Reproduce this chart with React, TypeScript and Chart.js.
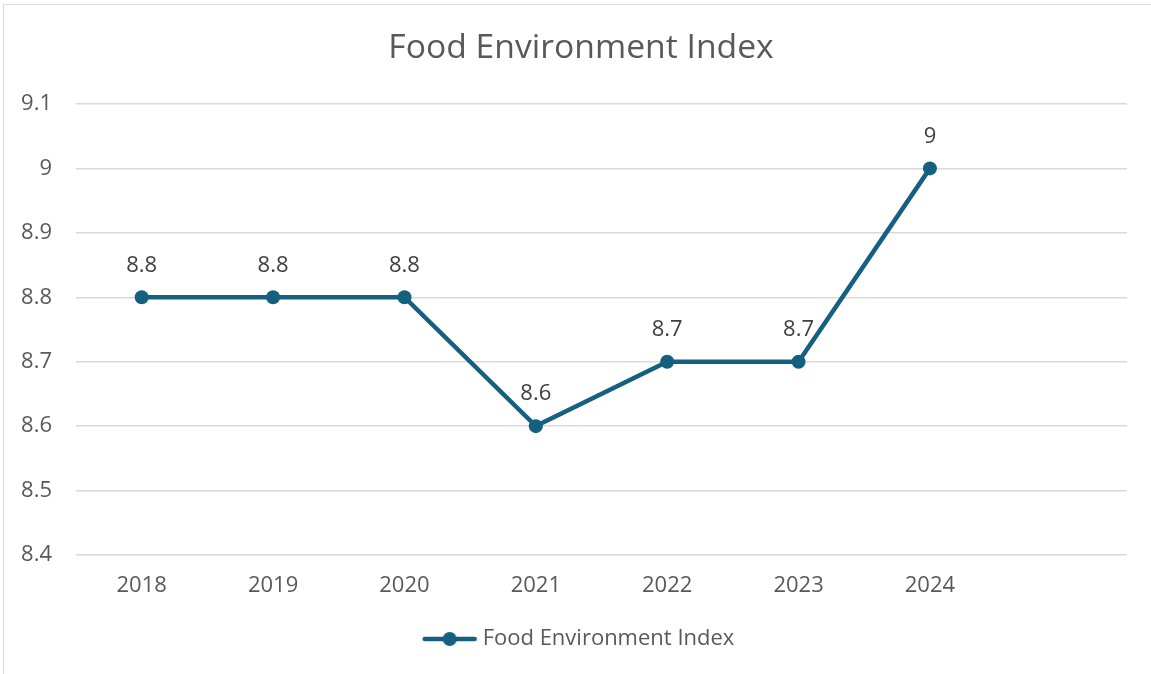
import React, { useEffect, useRef } from "react";
import { Chart, registerables } from "chart.js";

Chart.register(...registerables);

const chartTitle = "Food Environment Index";
const seriesName = "Food Environment Index";
const categories = ["2018", "2019", "2020", "2021", "2022", "2023", "2024", ""];
const values: (number | null)[] = [8.8, 8.8, 8.8, 8.6, 8.7, 8.7, 9.0, null];
const yMin = 8.4;
const yMax = 9.1;
const yStep = 0.1;

const LINE_COLOR = "#16607f";
const TEXT_COLOR = "#595959";
const LABEL_COLOR = "#404040";
const GRID_COLOR = "#d9d9d9";
const FONT = "'Open Sans', 'Liberation Sans', Arial, sans-serif";
const FS = 22;

function fmt(v: number) {
  return String(Number(v.toFixed(1)));
}

function makeLegendImage() {
  const c = document.createElement("canvas");
  c.width = 56;
  c.height = 16;
  const ctx = c.getContext("2d")!;
  ctx.strokeStyle = LINE_COLOR;
  ctx.lineWidth = 4.5;
  ctx.lineCap = "round";
  ctx.beginPath();
  ctx.moveTo(3, 8);
  ctx.lineTo(53, 8);
  ctx.stroke();
  ctx.fillStyle = LINE_COLOR;
  ctx.beginPath();
  ctx.arc(28, 8, 7, 0, Math.PI * 2);
  ctx.fill();
  return c;
}

const dataLabelPlugin = {
  id: "dataLabels",
  afterDatasetsDraw(chart: any) {
    const ctx = chart.ctx;
    const meta = chart.getDatasetMeta(0);
    ctx.save();
    ctx.font = `${FS}px ${FONT}`;
    ctx.fillStyle = LABEL_COLOR;
    ctx.textAlign = "center";
    ctx.textBaseline = "middle";
    meta.data.forEach((pt: any, i: number) => {
      const v = values[i];
      if (v == null) return;
      ctx.fillText(fmt(v), pt.x, pt.y - 32);
    });
    ctx.restore();
  },
};

export default function App() {
  const ref = useRef<HTMLCanvasElement>(null);
  useEffect(() => {
    if (!ref.current) return;
    const legendImg = makeLegendImage();
    const chart = new Chart(ref.current, {
      type: "line",
      data: {
        labels: categories,
        datasets: [
          {
            label: seriesName,
            data: values,
            borderColor: LINE_COLOR,
            backgroundColor: LINE_COLOR,
            borderWidth: 4.5,
            pointRadius: 7,
            pointBackgroundColor: LINE_COLOR,
            pointBorderWidth: 0,
            tension: 0,
          },
        ],
      },
      options: {
        responsive: false,
        animation: false,
        devicePixelRatio: 1,
        layout: { padding: { left: 11, right: 0, top: 0, bottom: 14 } },
        plugins: {
          title: {
            display: true,
            text: chartTitle,
            color: TEXT_COLOR,
            font: { family: FONT, size: 33.7, weight: "normal" },
            padding: { top: 28, bottom: 35.5 },
          },
          legend: {
            display: true,
            position: "bottom",
            labels: {
              color: TEXT_COLOR,
              font: { family: FONT, size: FS },
              usePointStyle: true,
              pointStyleWidth: 44,
              padding: 10,
              generateLabels: () => [
                {
                  text: seriesName,
                  pointStyle: legendImg as any,
                  fillStyle: LINE_COLOR,
                  strokeStyle: LINE_COLOR,
                  lineWidth: 0,
                  hidden: false,
                  datasetIndex: 0,
                  fontColor: TEXT_COLOR,
                } as any,
              ],
            },
          },
          tooltip: { enabled: false },
        },
        scales: {
          x: {
            type: "category",
            offset: true,
            grid: { display: false, drawTicks: false },
            border: { display: false },
            ticks: {
              color: TEXT_COLOR,
              font: { family: FONT, size: FS },
              padding: 18,
              maxRotation: 0,
              autoSkip: false,
            },
            afterFit: (s: any) => {
              s.height = 63;
            },
          },
          y: {
            min: yMin,
            max: yMax,
            grid: { color: GRID_COLOR, lineWidth: 1.5, drawTicks: false },
            border: { display: false },
            ticks: {
              stepSize: yStep,
              color: TEXT_COLOR,
              font: { family: FONT, size: FS },
              padding: 24,
              callback: (v: any) => fmt(Number(v)),
            },
            afterFit: (s: any) => {
              s.width = 65;
            },
          },
          yRight: {
            position: "right",
            min: yMin,
            max: yMax,
            grid: { display: false, drawTicks: false },
            border: { display: false },
            ticks: { display: false },
            afterFit: (s: any) => {
              s.width = 24;
            },
          },
        },
      },
      plugins: [dataLabelPlugin],
    });
    return () => chart.destroy();
  }, []);

  return (
    <div style={{ position: "absolute", left: 0, top: 0, width: 1151, height: 674, background: "#fff" }}>
      <div
        style={{
          position: "absolute",
          left: 3,
          top: 4,
          width: 1160,
          height: 680,
          borderLeft: "1.5px solid #d9d9d9",
          borderTop: "1.5px solid #d9d9d9",
        }}
      />
      <canvas ref={ref} width={1151} height={674} style={{ position: "absolute", left: 0, top: 0 }} />
    </div>
  );
}
